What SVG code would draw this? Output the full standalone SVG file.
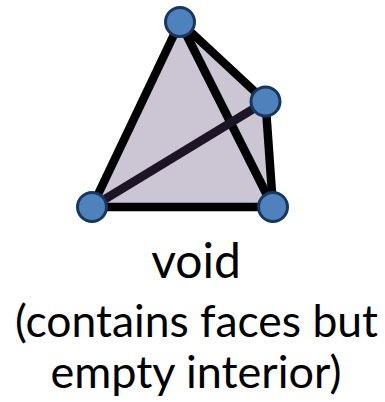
<svg xmlns="http://www.w3.org/2000/svg" width="385" height="402" viewBox="0 0 385 402">
<style>
.e{stroke:#000;stroke-width:8.5;fill:none}
.n{fill:#4f81bd;stroke:#17375e;stroke-width:3}
text{font-family:Lato,"Open Sans",sans-serif;font-size:45px;fill:#000;text-anchor:middle}
</style>
<path id="face" d="M180 22L265.500 101.500L273 207H92Z" fill="#ccc5d3"/>
<g id="connectors">
<line class="e" x1="180" y1="22" x2="92" y2="207"/>
<line class="e" x1="180" y1="22" x2="265.500" y2="101.500"/>
<line class="e" x1="180" y1="22" x2="273" y2="207"/>
<line class="e" x1="265.500" y1="101.500" x2="273" y2="207"/>
<line class="e" x1="92" y1="207" x2="273" y2="207"/>
<line class="e" style="stroke:#1d1525" x1="92" y1="207" x2="265.500" y2="101.500"/>
</g>
<g id="n1"><circle class="n" cx="180" cy="22" r="14.500"/></g>
<g id="n2"><circle class="n" cx="265.500" cy="101.500" r="14.500"/></g>
<g id="n3"><circle class="n" cx="92" cy="207" r="14.500"/></g>
<g id="n4"><circle class="n" cx="273" cy="207" r="14.500"/></g>
<g id="label">
<text x="196" y="278" style="font-size:48px">void</text>
<text x="196.500" y="337" textLength="363" lengthAdjust="spacingAndGlyphs">(contains faces but</text>
<text x="196" y="388">empty interior)</text>
</g>
</svg>
